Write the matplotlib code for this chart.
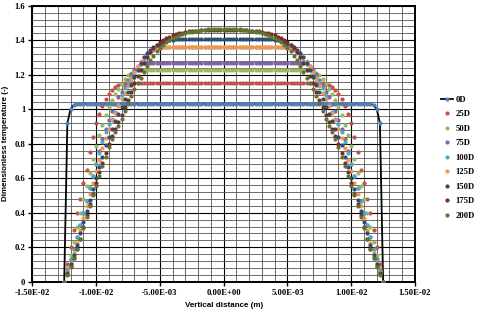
import numpy as np
import matplotlib
matplotlib.use("Agg")
import matplotlib.pyplot as plt
from matplotlib.ticker import MultipleLocator

# half profile (wall -> centre), vertical distance in mm
x_half_mm = [-12.5, -12.25, -12.0, -11.75, -11.5, -11.25, -11.0, -10.75, -10.5, -10.25,
             -10.0, -9.75, -9.5, -9.25, -9.0, -8.75, -8.5, -8.25, -8.0, -7.75,
             -7.5, -7.25, -7.0, -6.75, -6.5, -6.25, -6.0, -5.75, -5.5, -5.25,
             -5.0, -4.75, -4.5, -4.25, -4.0, -3.75, -3.5, -3.25, -3.0, -2.75,
             -2.5, -2.25, -2.0, -1.75, -1.5, -1.25, -1.0, -0.75, -0.5, -0.25, 0.0]

t_0D = [0.0, 0.92, 1.0, 1.025] + [1.03] * 47

t_25D = [0.0, 0.10, 0.20, 0.30, 0.40, 0.48, 0.57, 0.65, 0.75, 0.84,
         0.92, 0.97, 1.02, 1.06, 1.09, 1.11, 1.13, 1.14, 1.145, 1.15] + [1.15] * 31

t_50D = [0.0, 0.08, 0.155, 0.23, 0.32, 0.40, 0.48, 0.555, 0.63, 0.71,
         0.785, 0.85, 0.91, 0.965, 1.015, 1.055, 1.09, 1.12, 1.145, 1.175,
         1.20, 1.21, 1.22, 1.225] + [1.227] * 27

t_75D = [0.0, 0.07, 0.13, 0.19, 0.26, 0.33, 0.40, 0.47, 0.545, 0.615,
         0.685, 0.755, 0.825, 0.885, 0.94, 0.99, 1.03, 1.07, 1.10, 1.135,
         1.17, 1.205, 1.235, 1.25, 1.26, 1.265] + [1.268] * 25

t_100D = [0.0, 0.06, 0.125, 0.19, 0.26, 0.33, 0.40, 0.47, 0.545, 0.615,
          0.68, 0.745, 0.81, 0.87, 0.915, 0.945, 0.985, 1.03, 1.08, 1.125,
          1.16, 1.185, 1.21, 1.235, 1.26, 1.28, 1.30, 1.325, 1.345, 1.352,
          1.355] + [1.358] * 20

t_125D = [0.0, 0.055, 0.11, 0.165, 0.225, 0.30, 0.37, 0.44, 0.51, 0.575,
          0.64, 0.705, 0.775, 0.835, 0.885, 0.935, 0.98, 1.02, 1.06, 1.095,
          1.135, 1.175, 1.215, 1.25, 1.28, 1.30, 1.32, 1.335, 1.35, 1.355] + [1.36] * 21

t_150D = [0.0, 0.05, 0.10, 0.155, 0.21, 0.28, 0.345, 0.41, 0.475, 0.54,
          0.60, 0.665, 0.725, 0.79, 0.84, 0.885, 0.93, 0.975, 1.015, 1.06,
          1.10, 1.14, 1.185, 1.225, 1.265, 1.30, 1.325, 1.345, 1.36, 1.37,
          1.38, 1.39, 1.395, 1.40, 1.403] + [1.405] * 16

t_175D = [0.0, 0.045, 0.09, 0.14, 0.19, 0.25, 0.315, 0.385, 0.45, 0.51,
          0.575, 0.635, 0.69, 0.745, 0.80, 0.845, 0.885, 0.925, 0.965, 1.01,
          1.055, 1.10, 1.15, 1.19, 1.23, 1.265, 1.30, 1.33, 1.355, 1.375,
          1.39, 1.40, 1.41, 1.42, 1.428, 1.434, 1.44, 1.444, 1.448, 1.451,
          1.453, 1.455, 1.456, 1.457, 1.458, 1.458, 1.458, 1.458, 1.458, 1.458, 1.458]

t_200D = [0.0, 0.04, 0.085, 0.135, 0.19, 0.245, 0.31, 0.375, 0.44, 0.50,
          0.555, 0.61, 0.67, 0.725, 0.78, 0.825, 0.865, 0.905, 0.945, 0.99,
          1.035, 1.075, 1.115, 1.15, 1.18, 1.215, 1.25, 1.285, 1.31, 1.335,
          1.355, 1.375, 1.39, 1.40, 1.41, 1.42, 1.428, 1.435, 1.441, 1.446,
          1.45, 1.453, 1.456, 1.459, 1.461, 1.463, 1.464, 1.465, 1.465, 1.465, 1.465]

labels = ["0D", "25D", "50D", "75D", "100D", "125D", "150D", "175D", "200D"]
colors = ["#4F81BD", "#C0504D", "#9BBB59", "#8064A2", "#4BACC6",
          "#F79646", "#2C4D75", "#772C2A", "#5F7530"]
series = [t_0D, t_25D, t_50D, t_75D, t_100D, t_125D, t_150D, t_175D, t_200D]

xticks = [-1.5e-2, -1.0e-2, -5.0e-3, 0.0, 5.0e-3, 1.0e-2, 1.5e-2]
xtick_labels = ["-1.50E-02", "-1.00E-02", "-5.00E-03", "0.00E+00",
                "5.00E-03", "1.00E-02", "1.50E-02"]
yticks = [0, 0.2, 0.4, 0.6, 0.8, 1.0, 1.2, 1.4, 1.6]
ytick_labels = ["0", "0.2", "0.4", "0.6", "0.8", "1", "1.2", "1.4", "1.6"]


def full_profile(y_half):
    # profile is symmetric about the centre line
    xh = np.array(x_half_mm) * 1e-3
    yh = np.array(y_half)
    x = np.concatenate([xh, -xh[::-1][1:]])
    y = np.concatenate([yh, yh[::-1][1:]])
    return x, y


fig = plt.figure(figsize=(4.8, 3.12), dpi=100)
ax = fig.add_axes([0.0673, 0.0971, 0.7973, 0.8846])

for i, (lab, col, yv) in enumerate(zip(labels, colors, series)):
    x, y = full_profile(yv)
    if i == 0:
        ax.plot(x, y, '-', color='black', lw=1.3, marker='o', ms=2.0,
                mfc=col, mec=col, label=lab, zorder=3)
    else:
        ax.plot(x, y, 'o', ms=2.0, color=col, mec=col, label=lab, zorder=3 + i)

ax.set_xlim(-1.5e-2, 1.5e-2)
ax.set_ylim(0, 1.6)
ax.set_xticks(xticks)
ax.set_xticklabels(xtick_labels)
ax.set_yticks(yticks)
ax.set_yticklabels(ytick_labels)
ax.xaxis.set_minor_locator(MultipleLocator(1e-3))
ax.yaxis.set_minor_locator(MultipleLocator(0.04))
ax.grid(which='major', color='black', lw=0.8)
ax.grid(which='minor', color='#555555', lw=0.6)
ax.set_axisbelow(True)
ax.tick_params(which='minor', length=0)
ax.tick_params(which='major', length=3, width=1, direction='out', pad=2)
for lbl in ax.get_xticklabels() + ax.get_yticklabels():
    lbl.set_fontfamily('Liberation Serif')
    lbl.set_fontweight('bold')
    lbl.set_fontsize(6.2)
for s in ax.spines.values():
    s.set_linewidth(1.4)
    s.set_color('black')

ax.set_xlabel("Vertical distance (m)", fontsize=5.8, fontweight='bold',
              family='Liberation Sans', labelpad=4)
ax.set_ylabel("Dimensionless temperature (-)", fontsize=5.8, fontweight='bold',
              family='Liberation Sans', labelpad=4)

fig.legend(loc='center left', bbox_to_anchor=(0.918, 0.494), frameon=False,
           prop={'family': 'Liberation Serif', 'weight': 'bold', 'size': 6.2},
           handlelength=1.4, handletextpad=0.3, labelspacing=0.75,
           borderpad=0, borderaxespad=0)

fig.savefig("out.png", dpi=100)
